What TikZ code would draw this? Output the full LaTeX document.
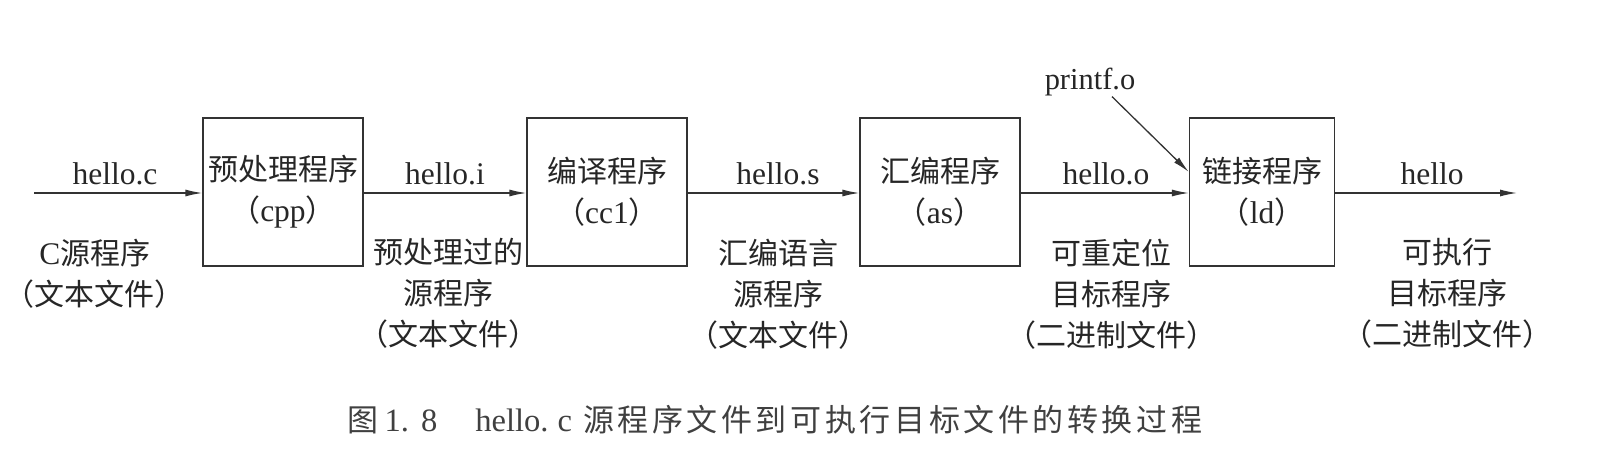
\documentclass[tikz,border=0pt]{standalone}
\usepackage{fontspec}
\setmainfont{Liberation Serif}[Scale=1.05]
\newfontfamily\zhf{Noto Sans CJK SC}
\newcommand\zh[1]{{\zhf #1}}
\newcommand\spaced[1]{\spacedaux#1\relax}
\def\spacedaux#1{\ifx#1\relax\else#1\kern3.6pt\expandafter\spacedaux\fi}
\usetikzlibrary{arrows.meta}
\begin{document}
\begin{tikzpicture}[x=1pt,y=-1pt,
  line width=1.3pt,
  every node/.style={inner sep=0pt, text=black!85, font=\fontsize{30}{41}\selectfont},
  proc/.style={draw=black!80, minimum width=160pt, minimum height=148pt, align=center},
  flow/.style={draw=black!80, -{Latex[length=17pt,width=7pt]}},
  lab/.style={align=center},
  captext/.style={text=black!75, font=\fontsize{31}{36}\selectfont}]
\useasboundingbox (0,0) rectangle (1598,465);
% process boxes
\node[proc] (p1) at (283,192) {\zh{预处理程序}\\\zh{（}cpp\zh{）}};
\node[proc] (p2) at (607,192) {\zh{编译程序}\\\zh{（}cc1\zh{）}};
\node[proc] (p3) at (940,192) {\zh{汇编程序}\\\zh{（}as\zh{）}};
\node[proc, minimum width=145pt] (p4) at (1262,192) {\zh{链接程序}\\\zh{（}ld\zh{）}};
\coordinate (in) at (34,193);
\coordinate (out) at (1517,193);
% connectors
\draw[flow] (in) -- (in -| p1.west);
\draw[flow] (p1.east |- in) -- (p2.west |- in);
\draw[flow] (p2.east |- in) -- (p3.west |- in);
\draw[flow] (p3.east |- in) -- (p4.west |- in);
\draw[flow] (p4.east |- in) -- (out);
% printf.o
\node[font=\fontsize{29}{36}\selectfont] (pf) at (1090,82) {printf.o};
\draw[flow] ([xshift=22pt]pf.south) -- ([yshift=20pt]p4.west);
% file labels
\node (f1) at (115,174) {hello.c};
\node (f2) at (445,174) {hello.i};
\node (f3) at (778,174) {hello.s};
\node (f4) at (1106,174) {hello.o};
\node (f5) at (1432,174) {hello};
% description labels
\node[lab, anchor=north] (d1) at (95,238) {C\zh{源程序}\\\zh{（文本文件）}};
\node[lab, anchor=north] (d2) at (448,238) {\zh{预处理过的}\\\zh{源程序}\\\zh{（文本文件）}};
\node[lab, anchor=north] (d3) at (778,238) {\zh{汇编语言}\\\zh{源程序}\\\zh{（文本文件）}};
\node[lab, anchor=north] (d4) at (1111,238) {\zh{可重定位}\\\zh{目标程序}\\\zh{（二进制文件）}};
\node[lab, anchor=north] (d5) at (1447,238) {\zh{可执行}\\\zh{目标程序}\\\zh{（二进制文件）}};
% caption
\node[captext, anchor=west] (caption) at (347,420) {\zh{图}\kern6pt 1.\kern12pt 8\kern38pt hello.\kern9pt c\kern11pt \zh{\spaced{源程序文件到可执行目标文件的转换过程}}};
\end{tikzpicture}
\end{document}
